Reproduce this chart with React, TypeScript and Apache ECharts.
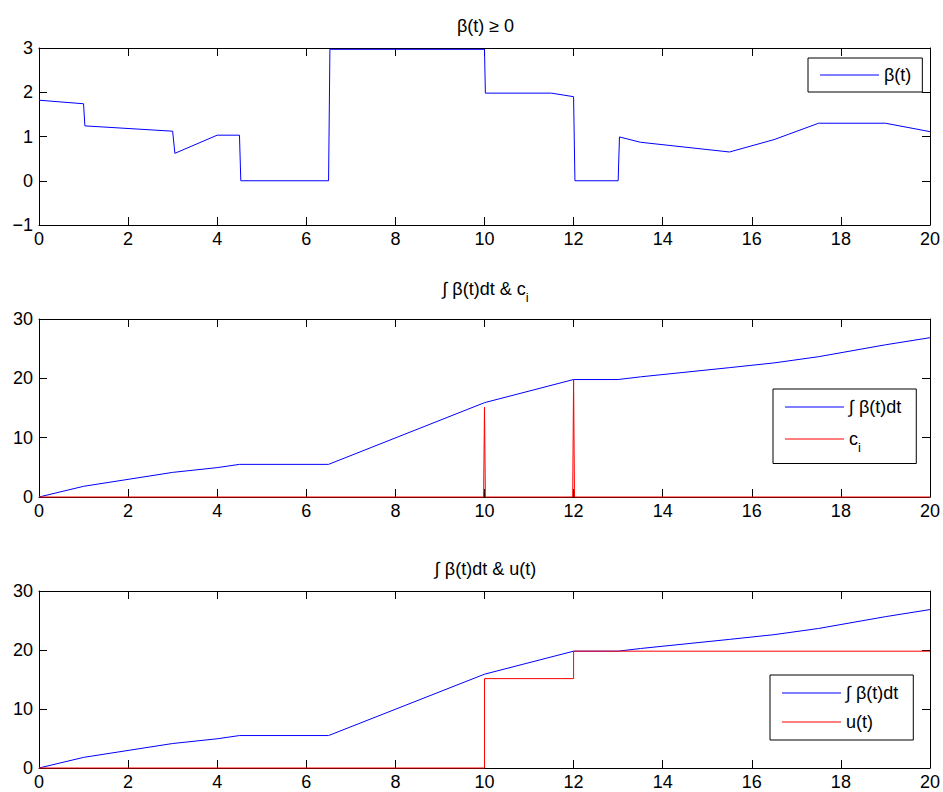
import React, { useEffect, useRef } from 'react';
import * as echarts from 'echarts';

// beta(t)
const betaT = [0, 1, 1.03, 3, 3.05, 4, 4.5, 4.53, 6.5, 6.53, 10, 10.02, 11.5, 12, 12.03, 13, 13.03, 13.5, 15.5, 16.5, 17.5, 19, 20];
const betaV = [1.82, 1.74, 1.24, 1.12, 0.62, 1.03, 1.03, 0, 0, 2.97, 2.97, 1.98, 1.98, 1.9, 0, 0, 0.99, 0.87, 0.65, 0.93, 1.3, 1.3, 1.11];

// integral of beta
const intT = [0, 1, 3, 4, 4.5, 6.5, 10, 12, 13, 13.5, 15.5, 16.5, 17.5, 19, 20];
const intV = [0, 1.8, 4.15, 4.95, 5.5, 5.5, 15.9, 19.8, 19.8, 20.25, 21.8, 22.6, 23.65, 25.65, 26.85];

// c_i spikes
const ciT = [0, 9.98, 10, 10.02, 11.98, 12, 12.02, 20];
const ciV = [0, 0, 15.15, 0, 0, 19.8, 0, 0];

// u(t)
const uT = [0, 10, 10, 12, 12, 20];
const uV = [0, 0, 15.15, 15.15, 19.8, 19.8];

const xMin = 0;
const xMax = 20;
const xStep = 2;
const y1Min = -1;
const y1Max = 3;
const y1Step = 1;
const y2Min = 0;
const y2Max = 30;
const y2Step = 10;

const titleTexts = ['β(t) ≥ 0', '∫ β(t)dt & c{sub|i}', '∫ β(t)dt & u(t)'];
const legendNames: Record<string, string> = {
  beta: 'β(t)',
  int2: '∫ β(t)dt',
  ci: 'c{sub|i}',
  int3: '∫ β(t)dt',
  u: 'u(t)',
};

const FONT = 'Arial, "Liberation Sans", Helvetica, sans-serif';
const BLUE = '#0000ff';
const RED = '#ff0000';

const pairs = (t: number[], v: number[]) => t.map((x, i) => [x, v[i]]);

const rich = {
  sub: { fontSize: 13, fontFamily: FONT, color: '#000', padding: [16, 0, 0, 0] },
};

export default function App() {
  const ref = useRef<HTMLDivElement>(null);
  useEffect(() => {
    if (!ref.current) return;
    const chart = echarts.init(ref.current, undefined, { renderer: 'svg' });

    const grids = [
      { left: 39, top: 48, width: 893, height: 177 },
      { left: 39, top: 319, width: 893, height: 178 },
      { left: 39, top: 591, width: 893, height: 177 },
    ];
    const yRanges = [
      [y1Min, y1Max, y1Step],
      [y2Min, y2Max, y2Step],
      [y2Min, y2Max, y2Step],
    ];

    const axisLine = { show: true, onZero: false, lineStyle: { color: '#000', width: 1 } };
    const tick = { show: true, inside: true, length: 8, lineStyle: { color: '#000', width: 1 } };
    const label = { color: '#000', fontSize: 18, fontFamily: FONT };

    const xAxis: any[] = [];
    const yAxis: any[] = [];
    grids.forEach((_, g) => {
      xAxis.push({
        type: 'value', gridIndex: g, position: 'bottom', min: xMin, max: xMax, interval: xStep,
        axisLine, axisTick: tick, splitLine: { show: false },
        axisLabel: { ...label, margin: 5 },
      });
      xAxis.push({
        type: 'value', gridIndex: g, position: 'top', min: xMin, max: xMax, interval: xStep,
        axisLine, axisTick: tick, splitLine: { show: false }, axisLabel: { show: false },
      });
      const [mn, mx, st] = yRanges[g];
      yAxis.push({
        type: 'value', gridIndex: g, position: 'left', min: mn, max: mx, interval: st,
        axisLine, axisTick: tick, splitLine: { show: false },
        axisLabel: { ...label, margin: 6, formatter: (v: number) => (v < 0 ? '\u2212' + Math.abs(v) : String(v)) },
      });
      yAxis.push({
        type: 'value', gridIndex: g, position: 'right', min: mn, max: mx, interval: st,
        axisLine, axisTick: tick, splitLine: { show: false }, axisLabel: { show: false },
      });
    });

    const line = (name: string, data: number[][], g: number, color: string) => ({
      name, type: 'line', data, xAxisIndex: g * 2, yAxisIndex: g * 2,
      showSymbol: false, symbol: 'none', lineStyle: { color, width: 1 }, itemStyle: { color },
      clip: false,
    });

    const legendBase = {
      orient: 'vertical', icon: 'rect', itemWidth: 59, itemHeight: 1,
      backgroundColor: '#fff', borderColor: '#000', borderWidth: 1, borderRadius: 0,
      selectedMode: false,
      textStyle: { color: '#000', fontSize: 18, fontFamily: FONT, rich },
      formatter: (n: string) => legendNames[n] || n,
    };

    const titleY = [26, 289, 569];

    const option: any = {
      animation: false,
      backgroundColor: '#fff',
      grid: grids,
      xAxis, yAxis,
      legend: [
        { ...legendBase, data: ['beta'], left: 808, top: 58, padding: [8, 11, 8, 12] },
        { ...legendBase, data: ['int2', 'ci'], left: 773, top: 389, padding: [9, 15, 10, 12], itemGap: 14 },
        { ...legendBase, data: ['int3', 'u'], left: 770, top: 675, padding: [9, 15, 9, 12], itemGap: 11 },
      ],
      series: [
        line('beta', pairs(betaT, betaV), 0, BLUE),
        line('int2', pairs(intT, intV), 1, BLUE),
        line('ci', pairs(ciT, ciV), 1, RED),
        line('int3', pairs(intT, intV), 2, BLUE),
        line('u', pairs(uT, uV), 2, RED),
      ],
      graphic: titleTexts.map((t, i) => ({
        type: 'text',
        x: 485.5,
        y: titleY[i],
        style: {
          text: t, fill: '#000', fontSize: 18, fontFamily: FONT,
          align: 'center', verticalAlign: 'middle', rich,
        },
      })),
    };
    chart.setOption(option);
    return () => chart.dispose();
  }, []);
  return (
    <div
      ref={ref}
      style={{ position: 'absolute', left: 0, top: 0, width: 943, height: 792, background: '#fff' }}
    />
  );
}
